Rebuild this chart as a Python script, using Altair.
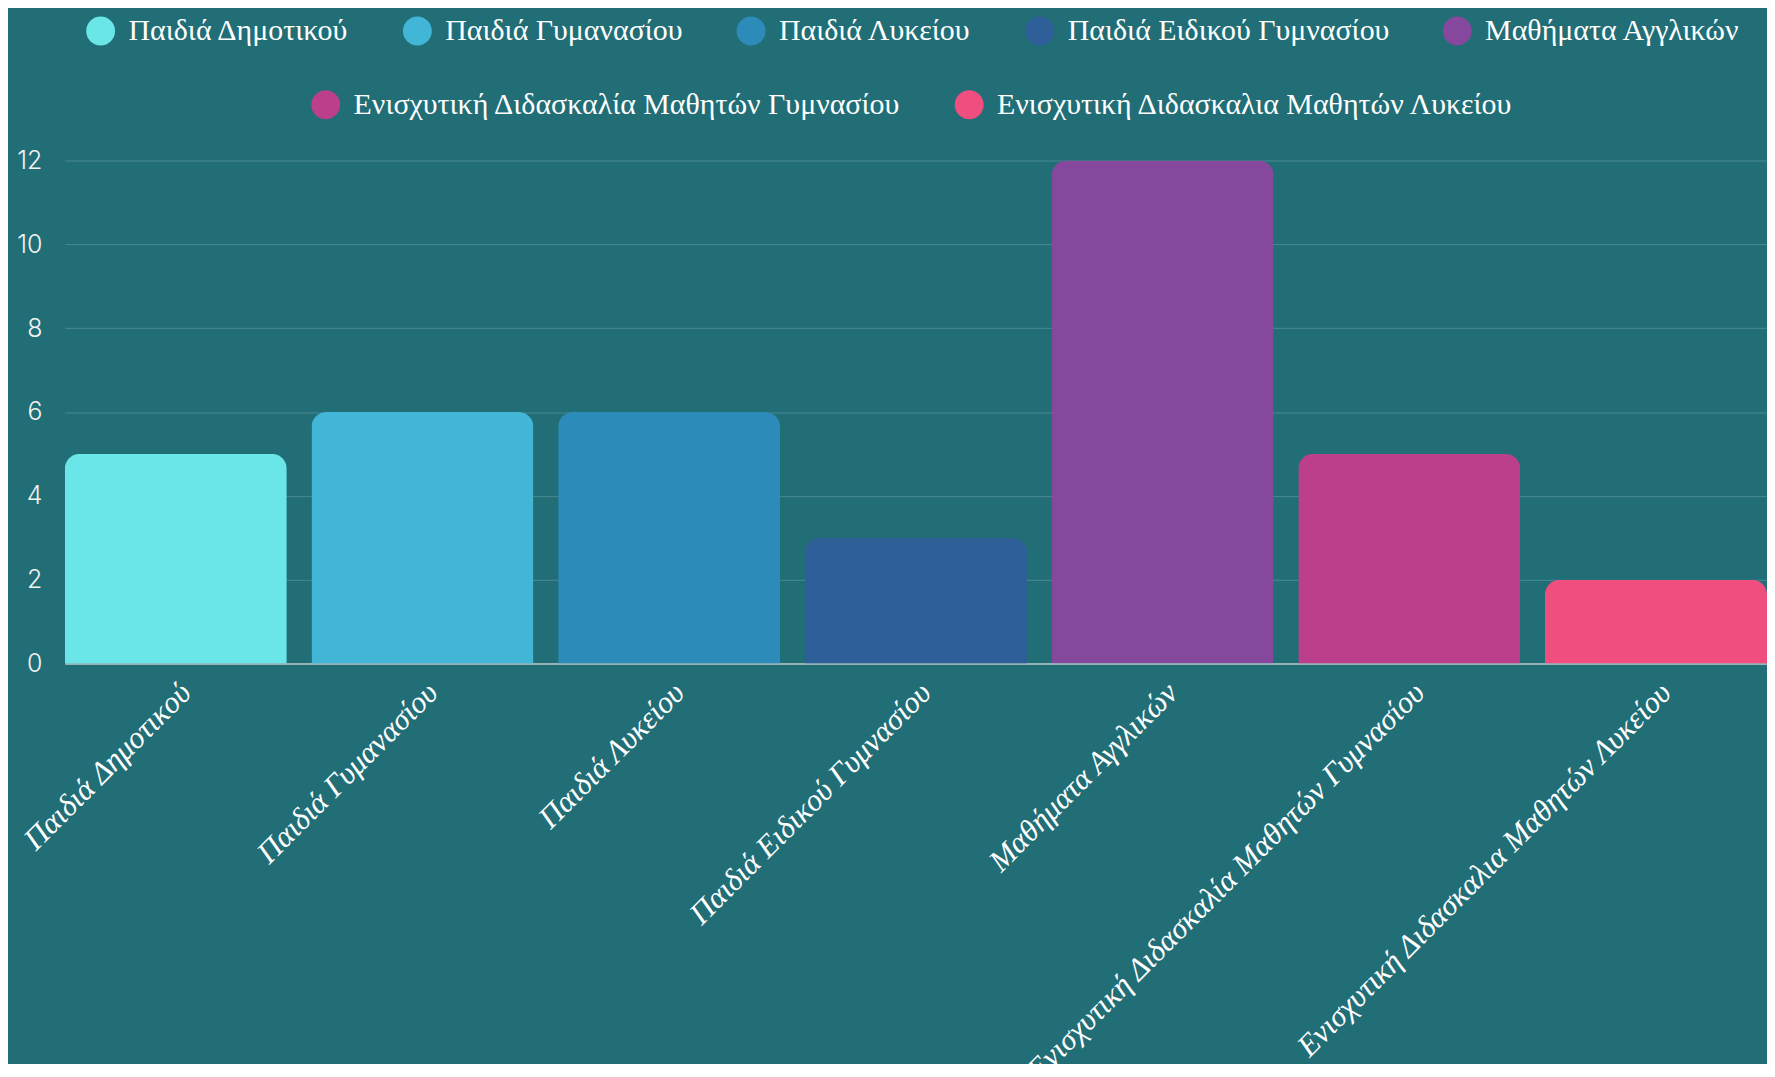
import altair as alt
import pandas as pd

categories = [
    "Παιδιά Δημοτικού",
    "Παιδιά Γυμανασίου",
    "Παιδιά Λυκείου",
    "Παιδιά Ειδικού Γυμνασίου",
    "Μαθήματα Αγγλικών",
    "Ενισχυτική Διδασκαλία Μαθητών Γυμνασίου",
    "Ενισχυτική Διδασκαλια Μαθητών Λυκείου",
]
values = [5, 6, 6, 3, 12, 5, 2]
colors = ["#6be6e8", "#41b6d6", "#2d8bba", "#2e5f98", "#86489c", "#bb3f8b", "#f04e7f"]
y_ticks = [0, 2, 4, 6, 8, 10, 12]

BG = "#216e77"

df = pd.DataFrame({"cat": categories, "val": values})

x_enc = alt.X(
    "cat:N",
    sort=categories,
    scale=alt.Scale(domain=categories, paddingInner=0.1, paddingOuter=0),
    axis=alt.Axis(
        title=None, labelAngle=-45, labelAlign="right", labelBaseline="top",
        labelFont="Liberation Serif", labelFontStyle="italic", labelFontSize=31,
        labelColor="#ffffff", labelPadding=14, labelLimit=1000,
        ticks=False, grid=False, domainColor="#b5c7ca", domainWidth=1.5,
    ),
)
y_enc = alt.Y(
    "val:Q",
    scale=alt.Scale(domain=[0, 12], nice=False),
    axis=alt.Axis(
        title=None, values=y_ticks, grid=True, gridColor="#4a8a92", gridWidth=1,
        domain=False, ticks=False, labelFont="Inter", labelFontSize=25,
        labelFontWeight=300, labelColor="#f2f2f2", labelPadding=23,
    ),
)

def legend(vals, lx, ly):
    return alt.Legend(
        title=None, orient="none", legendX=lx, legendY=ly, direction="horizontal",
        values=vals, symbolType="circle", symbolSize=840, symbolStrokeWidth=0,
        labelFont="Liberation Serif", labelFontSize=30, labelColor="#ffffff",
        labelOffset=13, columnPadding=53, labelLimit=1000,
    )

first = categories[:5]
second = categories[5:]

bars1 = alt.Chart(df).transform_filter(
    alt.FieldOneOfPredicate(field="cat", oneOf=first)
).mark_bar(cornerRadiusTopLeft=15, cornerRadiusTopRight=15).encode(
    x=x_enc, y=y_enc,
    color=alt.Color("cat:N", scale=alt.Scale(domain=first, range=colors[:5]),
                    legend=legend(first, 21, -145)),
)
bars2 = alt.Chart(df).transform_filter(
    alt.FieldOneOfPredicate(field="cat", oneOf=second)
).mark_bar(cornerRadiusTopLeft=15, cornerRadiusTopRight=15).encode(
    x=x_enc, y=y_enc,
    color=alt.Color("cat:N", scale=alt.Scale(domain=second, range=colors[5:]),
                    legend=legend(second, 247, -71)),
)

chart = alt.layer(bars1, bars2).resolve_scale(color="independent").properties(
    width=1709, height=505,
    autosize=alt.AutoSizeParams(type="none"),
    padding={"left": 57, "top": 151, "right": 0, "bottom": 400},
    background=BG,
).configure_view(stroke=None)

chart.save("out.html", embed_options={"renderer": "svg", "actions": False})
